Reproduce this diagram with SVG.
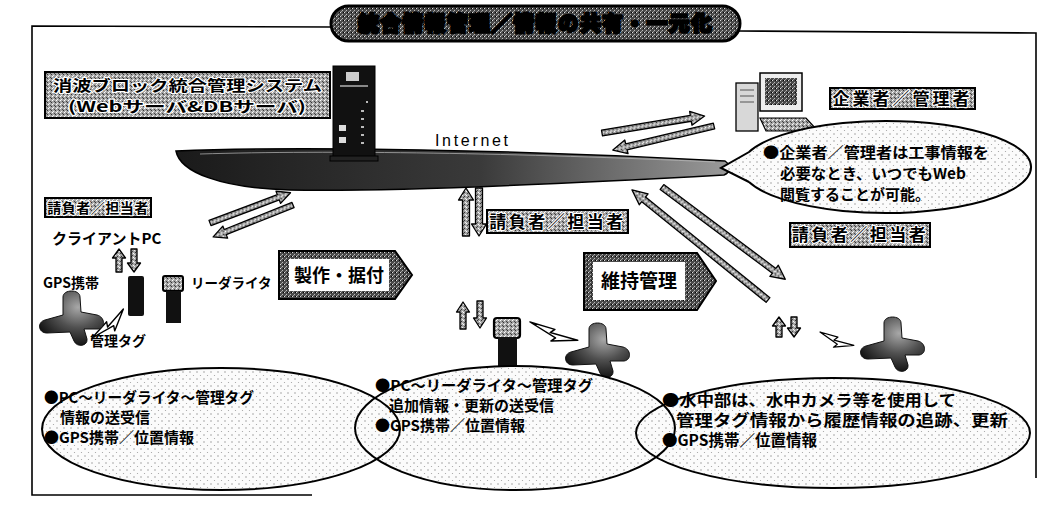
<svg xmlns="http://www.w3.org/2000/svg" width="1043" height="511" viewBox="0 0 1043 511">
  <defs>
    <pattern id="grain" width="4" height="4" patternUnits="userSpaceOnUse">
      <rect width="4" height="4" fill="#a4a4a4"/>
      <rect x="0" y="0" width="1" height="1" fill="#fff"/>
      <rect x="2" y="1" width="1" height="1" fill="#444"/>
      <rect x="1" y="3" width="1" height="1" fill="#eee"/>
      <rect x="3" y="2" width="1" height="1" fill="#333"/>
    </pattern>
    <pattern id="darkgrain" width="4" height="4" patternUnits="userSpaceOnUse">
      <rect width="4" height="4" fill="#4a4a4a"/>
      <rect x="0" y="0" width="1" height="1" fill="#ddd"/>
      <rect x="2" y="2" width="1" height="1" fill="#bbb"/>
      <rect x="3" y="0" width="1" height="1" fill="#000"/>
      <rect x="1" y="3" width="1" height="1" fill="#999"/>
    </pattern>
    <pattern id="dots" width="7" height="7" patternUnits="userSpaceOnUse">
      <rect width="7" height="7" fill="#fbfbfb"/>
      <circle cx="1" cy="1" r="0.7" fill="#8a8a8a"/>
      <circle cx="4.5" cy="4.5" r="0.6" fill="#a0a0a0"/>
    </pattern>
    <linearGradient id="disk" x1="0" y1="0" x2="1" y2="0">
      <stop offset="0" stop-color="#1a1a1a"/>
      <stop offset="0.55" stop-color="#3a3a3a"/>
      <stop offset="1" stop-color="#9a9a9a"/>
    </linearGradient>
    <radialGradient id="tetra" cx="0.6" cy="0.3" r="0.75">
      <stop offset="0" stop-color="#a8a8a8"/>
      <stop offset="0.5" stop-color="#505050"/>
      <stop offset="1" stop-color="#0c0c0c"/>
    </radialGradient>
    <!-- concrete armour block: upright arm, two side arms, front leg -->
    <path id="tetrapod" d="M-9,-23 C-9,-31 8,-31 8,-23 L9,-8 L25,-5 C33,-3 34,8 26,9 L12,9 L15,19 C16,26 5,28 2,21 L-2,12 L-25,13 C-34,13 -35,2 -27,0 L-9,-5 Z"/>
    <!-- lightning-shaped wireless link, pointing right -->
    <path id="bolt" d="M0,0 L21,-6 L19,-1 L42,-8 L23,6 L25,1 Z"/>
  </defs>

  <style>
    .frame { fill: none; stroke: #000; stroke-width: 1.6; }
    .ba { fill: url(#grain); stroke: #000; stroke-width: 1.3; stroke-linejoin: round; }
    .lab { fill: url(#grain); stroke: #000; stroke-width: 2; }
    .jp { font-family: "Noto Sans CJK JP", "Noto Sans", sans-serif; font-weight: 700; fill: #000; }
    .outl { stroke: #fff; stroke-width: 2.2; paint-order: stroke; stroke-linejoin: round; }
    .oval { fill: url(#dots); stroke: none; }
    .ovalline { fill: none; stroke: #000; stroke-width: 2; }
    .tp { fill: url(#tetra); stroke: #111; stroke-width: 1; stroke-linejoin: round; }
    .bolt { fill: #fff; stroke: #000; stroke-width: 1.4; stroke-linejoin: round; }
    .tag { fill: url(#darkgrain); stroke: #000; stroke-width: 2; }
  </style>

  <rect width="1043" height="511" fill="#fff"/>

  <!-- outer frame -->
  <path class="frame" d="M332,27 L32,26 L32,495 L312,495 M738,31 L1036,33 L1036,478"/>

  <!-- heading -->
  <g id="title">
    <rect x="331" y="6" width="409" height="35" rx="17.5" fill="url(#darkgrain)" stroke="#000" stroke-width="3"/>
    <text class="jp" x="536" y="30.5" text-anchor="middle" font-size="20" letter-spacing="2.2" fill="#fff" stroke="#000" stroke-width="3" paint-order="stroke">統合情報管理／情報の共有・一元化</text>
  </g>

  <!-- network backbone -->
  <g id="internet">
    <path d="M176,151 C300,146 520,150 725,161 C731,165 731,172 724,175 C560,184 380,192 290,190 C220,188 180,172 176,151 Z" fill="url(#disk)" stroke="#000" stroke-width="1.5"/>
    <path d="M200,154 C330,150 520,153 715,162" fill="none" stroke="#bbb" stroke-width="1" opacity="0.7"/>
    <text x="435" y="146" font-family="Liberation Sans, Arial, sans-serif" font-size="16" textLength="73" fill="#000">Internet</text>
  </g>

  <!-- connectors -->
  <g id="connectors">
    <!-- client PC <-> internet -->
    <path class="ba" transform="translate(210,223) rotate(-20.6)" d="M0,-2.8 H73 V-6.5 L86,0 L73,6.5 V2.8 H0 Z"/>
    <path class="ba" transform="translate(293,205) rotate(158.2)" d="M0,-2.8 H73 V-6.5 L86,0 L73,6.5 V2.8 H0 Z"/>
    <!-- owner PC <-> internet -->
    <path class="ba" transform="translate(602,133) rotate(-9.4)" d="M0,-3 H90 V-7 L104,0 L90,7 V3 H0 Z"/>
    <path class="ba" transform="translate(714,126) rotate(166.6)" d="M0,-3 H90 V-7 L104,0 L90,7 V3 H0 Z"/>
    <!-- maintenance staff <-> internet -->
    <path class="ba" transform="translate(768,300) rotate(-141)" d="M0,-3 H160 V-7 L175,0 L160,7 V3 H0 Z"/>
    <path class="ba" transform="translate(662,187) rotate(36.8)" d="M0,-3 H140 V-7 L154,0 L140,7 V3 H0 Z"/>
    <!-- centre staff <-> internet -->
    <path class="ba" transform="translate(466,236) rotate(-90)" d="M0,-3.5 H36 V-7.5 L48,0 L36,7.5 V3.5 H0 Z"/>
    <path class="ba" transform="translate(479,188) rotate(90)" d="M0,-3.5 H36 V-7.5 L48,0 L36,7.5 V3.5 H0 Z"/>
    <!-- handset links -->
    <path class="ba" transform="translate(119,272) rotate(-90)" d="M0,-3 H14 V-6.5 L23,0 L14,6.5 V3 H0 Z"/>
    <path class="ba" transform="translate(134,249) rotate(90)" d="M0,-3 H14 V-6.5 L23,0 L14,6.5 V3 H0 Z"/>
    <path class="ba" transform="translate(463,329) rotate(-90)" d="M0,-3 H17 V-6.5 L27,0 L17,6.5 V3 H0 Z"/>
    <path class="ba" transform="translate(480,301) rotate(90)" d="M0,-3 H17 V-6.5 L27,0 L17,6.5 V3 H0 Z"/>
    <path class="ba" transform="translate(779,337) rotate(-90)" d="M0,-3 H11 V-6.5 L20,0 L11,6.5 V3 H0 Z"/>
    <path class="ba" transform="translate(794,317) rotate(90)" d="M0,-3 H11 V-6.5 L20,0 L11,6.5 V3 H0 Z"/>
    <!-- wireless tag reads -->
    <use href="#bolt" class="bolt" transform="translate(92,338) rotate(-32)"/>
    <use href="#bolt" class="bolt" transform="translate(530,322) rotate(30) scale(1.2,1)"/>
    <use href="#bolt" class="bolt" transform="translate(820,332) rotate(33) scale(0.85,0.9)"/>
  </g>

  <!-- management server -->
  <g id="server">
    <rect class="lab" x="45" y="72" width="285" height="46"/>
    <text class="jp outl" x="53" y="91" font-size="15" textLength="269" lengthAdjust="spacingAndGlyphs">消波ブロック統合管理システム</text>
    <text class="jp outl" x="68" y="112" font-size="15" textLength="238" lengthAdjust="spacingAndGlyphs">(Webサーバ&amp;DBサーバ)</text>
    <rect x="333" y="66" width="42" height="94" fill="#111" stroke="#000"/>
    <rect x="346" y="72" width="13" height="9" fill="#ccc"/>
    <rect x="340" y="85" width="28" height="2" fill="#888"/>
    <rect x="339" y="125" width="7" height="6" fill="#ddd"/>
    <rect x="339" y="137" width="7" height="6" fill="#ddd"/>
    <g fill="#bbb">
      <rect x="361" y="110" width="3" height="2"/><rect x="361" y="118" width="3" height="2"/>
      <rect x="361" y="126" width="3" height="2"/><rect x="361" y="134" width="3" height="2"/>
      <rect x="361" y="142" width="3" height="2"/><rect x="366" y="101" width="2" height="2"/>
    </g>
    <rect x="330" y="156" width="48" height="5" fill="#222" stroke="#000"/>
  </g>

  <!-- owner / administrator -->
  <g id="owner">
    <rect x="736" y="83" width="22" height="48" fill="#d8d8d8" stroke="#000" stroke-width="1.3"/>
    <path d="M740,90 h14 M740,96 h14 M740,102 h14" stroke="#555" stroke-width="1"/>
    <rect x="760" y="73" width="42" height="38" fill="#eee" stroke="#000" stroke-width="1.5"/>
    <rect x="765" y="78" width="32" height="27" fill="url(#darkgrain)"/>
    <path d="M760,118 L806,118 L818,131 L766,131 Z" fill="url(#grain)" stroke="#000" stroke-width="1.2"/>
    <rect class="lab" x="830" y="88" width="145" height="21"/>
    <text class="jp outl" x="902.5" y="105" text-anchor="middle" font-size="17" letter-spacing="3">企業者／管理者</text>
    <path class="oval" d="M749,182 L721,168 L749,152 A145,46 0 1 1 749,182 Z"/>
    <path class="ovalline" d="M749,182 L721,168 L749,152 A145,46 0 1 1 749,182"/>
    <text class="jp" x="763" y="158" font-size="15" textLength="226" lengthAdjust="spacingAndGlyphs">●企業者／管理者は工事情報を</text>
    <text class="jp" x="780" y="179" font-size="15" textLength="186" lengthAdjust="spacingAndGlyphs">必要なとき、いつでもWeb</text>
    <text class="jp" x="780" y="200" font-size="15" textLength="150" lengthAdjust="spacingAndGlyphs">閲覧することが可能。</text>
  </g>

  <!-- client side: fabrication and installation -->
  <g id="client">
    <rect class="lab" x="45" y="198" width="106" height="19"/>
    <text class="jp outl" x="98" y="213" text-anchor="middle" font-size="14" letter-spacing="0.5">請負者／担当者</text>
    <text class="jp" x="52" y="244" font-size="15" font-weight="400">クライアントPC</text>
    <text class="jp" x="43" y="288" font-size="14">GPS携帯</text>
    <rect x="128" y="276" width="16" height="40" rx="2" fill="#111"/>
    <rect x="163" y="276" width="20" height="15" rx="2" fill="url(#grain)" stroke="#000" stroke-width="2"/>
    <rect x="166" y="291" width="15" height="32" fill="#111"/>
    <text class="jp" x="191" y="288" font-size="13.5" font-weight="400">リーダライタ</text>
    <text class="jp" x="90" y="346" font-size="14">管理タグ</text>
  </g>

  <g id="fabrication">
    <path class="tag" d="M279,251 L395,251 L412,275 L395,299 L279,299 Z"/>
    <rect x="289" y="259" width="100" height="32" fill="#fff"/>
    <text class="jp" x="339" y="281.5" text-anchor="middle" font-size="18">製作・据付</text>
  </g>

  <g id="maintenance">
    <path class="tag" d="M584,253 L697,253 L716,281 L697,310 L584,310 Z"/>
    <rect x="593" y="262" width="92" height="38" fill="#fff"/>
    <text class="jp" x="639" y="288" text-anchor="middle" font-size="19">維持管理</text>
  </g>

  <!-- centre staff -->
  <g id="staff-centre">
    <rect class="lab" x="487" y="210" width="141" height="23"/>
    <text class="jp outl" x="557.5" y="228" text-anchor="middle" font-size="17" letter-spacing="2.5">請負者／担当者</text>
    <rect x="494" y="318" width="26" height="20" rx="3" fill="url(#grain)" stroke="#000" stroke-width="2.2"/>
    <rect x="498" y="337" width="19" height="41" fill="#111"/>
  </g>

  <!-- right staff -->
  <g id="staff-right">
    <rect class="lab" x="790" y="223" width="140" height="24"/>
    <text class="jp outl" x="860" y="241" text-anchor="middle" font-size="17" letter-spacing="2.5">請負者／担当者</text>
  </g>

  <!-- armour blocks -->
  <g id="blocks">
    <use href="#tetrapod" class="tp" transform="translate(72,320)"/>
    <use href="#tetrapod" class="tp" transform="translate(598,352)"/>
    <use href="#tetrapod" class="tp" transform="translate(893,346)"/>
  </g>

  <!-- information notes -->
  <g id="notes">
    <ellipse class="oval" cx="221" cy="429" rx="179" ry="61"/>
    <ellipse class="oval" cx="515" cy="428" rx="160" ry="62"/>
    <ellipse class="oval" cx="833" cy="433" rx="197" ry="55"/>
    <ellipse class="ovalline" cx="221" cy="429" rx="179" ry="61"/>
    <ellipse class="ovalline" cx="515" cy="428" rx="160" ry="62"/>
    <ellipse class="ovalline" cx="833" cy="433" rx="197" ry="55"/>

    <text class="jp" x="44" y="403" font-size="15" textLength="210" lengthAdjust="spacingAndGlyphs">●PC～リーダライタ～管理タグ</text>
    <text class="jp" x="60" y="423" font-size="15">情報の送受信</text>
    <text class="jp" x="44" y="443" font-size="15">●GPS携帯／位置情報</text>

    <text class="jp" x="375" y="391" font-size="15" textLength="218" lengthAdjust="spacingAndGlyphs">●PC～リーダライタ～管理タグ</text>
    <text class="jp" x="389" y="411" font-size="15">追加情報・更新の送受信</text>
    <text class="jp" x="375" y="431" font-size="15">●GPS携帯／位置情報</text>

    <text class="jp" x="662" y="406" font-size="15.5" textLength="294" lengthAdjust="spacingAndGlyphs">●水中部は、水中カメラ等を使用して</text>
    <text class="jp" x="676" y="426" font-size="15.5" textLength="332" lengthAdjust="spacingAndGlyphs">管理タグ情報から履歴情報の追跡、更新</text>
    <text class="jp" x="662" y="446" font-size="15.5">●GPS携帯／位置情報</text>
  </g>
</svg>
